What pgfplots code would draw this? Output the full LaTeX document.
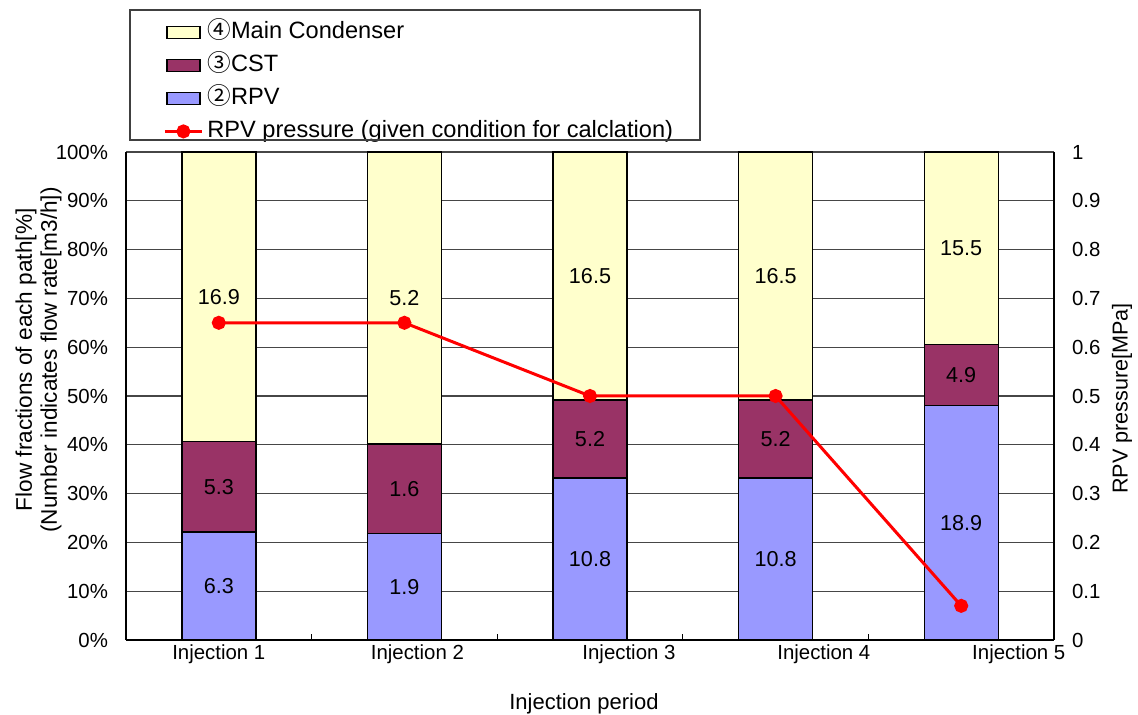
\documentclass[border=0pt]{standalone}
\usepackage{pgfplots}
\pgfplotsset{compat=1.18}
\usepackage{pgfplotstable}
\usepackage{fontspec}
\setmainfont{Liberation Sans}
\newfontfamily\cjk{Noto Sans CJK JP}
\definecolor{mccol}{RGB}{255,255,204}
\definecolor{cstcol}{RGB}{153,51,102}
\definecolor{rpvcol}{RGB}{153,153,255}
\definecolor{gridc}{RGB}{70,70,70}

\pgfplotsset{
  boxleg/.style={legend image code/.code={\draw[##1] (1pt,-3pt) rectangle (17.5pt,3pt);}},
  lineleg/.style={legend image code/.code={\draw[##1,sharp plot,mark repeat=2,mark phase=2] plot coordinates {(0pt,0pt) (9.25pt,0pt) (18.5pt,0pt)};}},
}

\pgfplotstableread{
x rpv cst mc
0 22.1 18.6 59.3
1 21.8 18.4 59.8
2 33.2 16.0 50.8
3 33.2 16.0 50.8
4 48.1 12.5 39.4
}\bars

\pgfplotstableread{
x y label
0 11.05 6.3
0 31.4 5.3
0 70.35 16.9
1 10.9 1.9
1 31.0 1.6
1 70.1 5.2
2 16.6 10.8
2 41.2 5.2
2 74.6 16.5
3 16.6 10.8
3 41.2 5.2
3 74.6 16.5
4 24.05 18.9
4 54.35 4.9
4 80.3 15.5
}\labels

\pgfplotstableread{
x p
0 0.65
1 0.65
2 0.50
3 0.50
4 0.07
}\press

\begin{document}
\begin{tikzpicture}
\pgfplotsset{
  every axis/.append style={font=\fontsize{10.2}{12}\selectfont},
  /pgf/number format/assume math mode=true,
  base/.style={
    width=464pt, height=244pt, scale only axis,
    at={(0,0)}, anchor=south west,
    xmin=-0.5, xmax=4.5, ymin=0, ymax=100,
  },
}
\begin{axis}[base,
  ybar stacked, bar width=37pt,
  axis x line*=bottom, axis y line*=left,
  axis line style={black, line width=0.7pt},
  xtick={0,1.07,2.21,3.26,4.31},
  xticklabels={Injection 1,Injection 2,Injection 3,Injection 4,Injection 5},
  major x tick style={draw=none},
  minor xtick={0.5,1.5,2.5,3.5},
  minor x tick style={black, line width=0.6pt},
  minor tick length=3pt,
  tick align=inside,
  xticklabel style={yshift=1pt},
  ytick={0,10,...,100},
  yticklabels={0\%,10\%,20\%,30\%,40\%,50\%,60\%,70\%,80\%,90\%,100\%},
  yticklabel style={xshift=-5.5pt},
  major y tick style={draw=none},
  ymajorgrids, grid style={gridc, line width=0.6pt},
  ylabel={Flow fractions of each path[\%]\\(Number indicates flow rate[m3/h])},
  ylabel style={align=center, at={(axis description cs:-0.0943,0.574)}, anchor=center,
    font=\fontsize{11.3}{12.5}\selectfont},
  xlabel={Injection period},
  xlabel style={at={(axis description cs:0.4935,-0.131)}, anchor=center,
    font=\fontsize{11}{13}\selectfont},
  legend style={at={(axis description cs:0.0399,1.2684)}, anchor=north west,
    draw=none, fill=none, inner sep=0pt, font=\fontsize{11.8}{13}\selectfont,
    nodes={text height=8.5pt, text depth=2.5pt, inner ysep=0pt, inner xsep=2pt},
    row sep=5.5pt},
  legend cell align=left,
]
\addlegendimage{boxleg, fill=mccol, draw=black, line width=0.6pt}
\addlegendentry{{\cjk ④}Main Condenser}
\addlegendimage{boxleg, fill=cstcol, draw=black, line width=0.6pt}
\addlegendentry{{\cjk ③}CST}
\addlegendimage{boxleg, fill=rpvcol, draw=black, line width=0.6pt}
\addlegendentry{{\cjk ②}RPV}
\addlegendimage{lineleg, red, line width=1.5pt, mark=*, mark size=2.75pt}
\addlegendentry{RPV pressure (given condition for calclation)}
\addplot[fill=rpvcol, draw=black, line width=0.7pt, forget plot] table[x=x,y=rpv] {\bars};
\addplot[fill=cstcol, draw=black, line width=0.7pt, forget plot] table[x=x,y=cst] {\bars};
\addplot[fill=mccol, draw=black, line width=0.7pt, forget plot] table[x=x,y=mc] {\bars};
\end{axis}

\begin{axis}[base, ymax=1,
  axis y line*=right, axis x line=none,
  axis line style={black, line width=0.7pt},
  ytick={0,0.1,...,1},
  yticklabel style={xshift=5.5pt, /pgf/number format/fixed, /pgf/number format/precision=1},
  major y tick style={draw=none},
  ylabel={RPV pressure[MPa]},
  ylabel style={at={(axis description cs:1.0733,0.495)}, anchor=center,
    font=\fontsize{10.8}{13}\selectfont},
]
\addplot[red, line width=1.5pt, mark=*, mark size=2.75pt] table[x=x,y=p] {\press};
\end{axis}

\begin{axis}[base, hide axis]
\addplot[draw=none, mark=none, nodes near coords, point meta=explicit symbolic,
  every node near coord/.append style={anchor=center, font=\fontsize{10.8}{12}\selectfont}]
  table[x=x,y=y,meta=label] {\labels};
\end{axis}

\draw[black!75, line width=0.6pt] (2pt,315pt) rectangle (287pt,250pt);

\pgfresetboundingbox
\path (-63pt,-37.5pt) rectangle (506pt,320pt);
\end{tikzpicture}
\end{document}
